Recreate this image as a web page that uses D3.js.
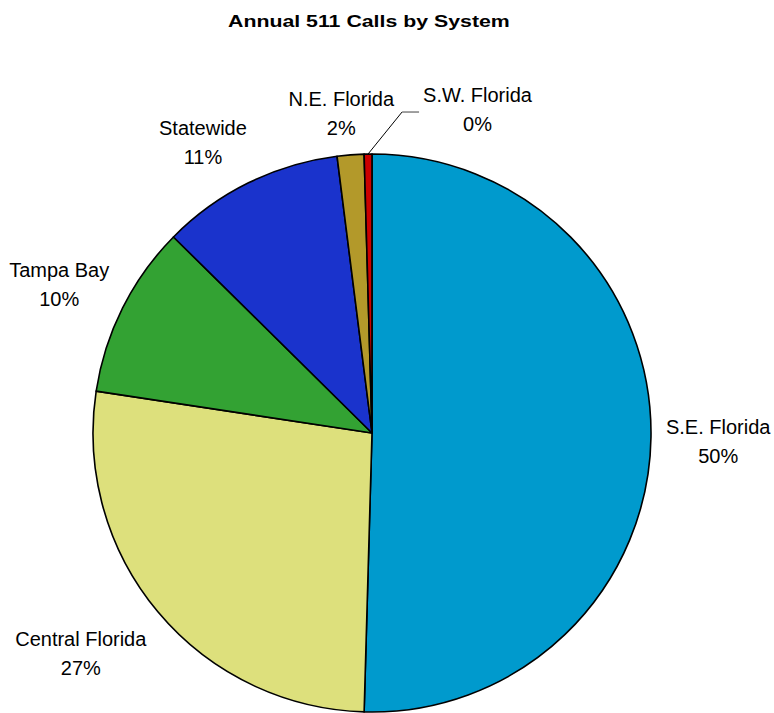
<!DOCTYPE html>
<html>
<head>
<meta charset="utf-8">
<script src="https://cdn.jsdelivr.net/npm/d3@7"></script>
<style>
  html, body { margin: 0; padding: 0; background: #fff; }
  svg { display: block; }
  text { font-family: "Liberation Sans", Arial, sans-serif; fill: #000; }
</style>
</head>
<body>
<svg id="chart" width="774" height="713"></svg>
<script>
// Share of annual 511 calls by regional system (percent)
const systems = ["S.E. Florida", "Central Florida", "Tampa Bay", "Statewide", "N.E. Florida", "S.W. Florida"];
const shares  = [50.45, 26.95, 10.0, 10.6, 1.55, 0.45];
const colors  = ["#009acd", "#dde07c", "#33a233", "#1a33cc", "#b3992a", "#cc0000"];

const W = 774, H = 713;
const cx = 372, cy = 433, r = 279;

const svg = d3.select("#chart");

// Title: bold, drawn slightly widened
const title = svg.append("text")
  .attr("font-size", 17).attr("font-weight", "bold")
  .text("Annual 511 Calls by System");
const tw = title.node().getComputedTextLength();
const sx = 282 / tw;
title.attr("transform", `translate(228,27) scale(${sx},1)`);

const data = systems.map((name, i) => ({ name, value: shares[i], color: colors[i] }));

const pie = d3.pie().value(d => d.value).sort(null);
const arcs = pie(data);
const arc = d3.arc().innerRadius(0).outerRadius(r);

const g = svg.append("g").attr("transform", `translate(${cx},${cy})`);

g.selectAll("path.slice")
  .data(arcs)
  .join("path")
  .attr("class", "slice")
  .attr("d", arc)
  .attr("fill", d => d.data.color)
  .attr("stroke", "#000")
  .attr("stroke-width", 1.6)
  .attr("stroke-linejoin", "round");

// Outside labels: name on the first line, rounded percent on the second
const clamp = v => Math.max(-1, Math.min(1, v));
const lineGap = 29, fontSize = 20;

arcs.forEach(d => {
  const a = (d.startAngle + d.endAngle) / 2;
  const s = Math.sin(a), c = Math.cos(a);
  const pctText = Math.round(d.data.value) + "%";
  const lg = g.append("g");
  const t1 = lg.append("text").attr("text-anchor", "middle").attr("font-size", fontSize).text(d.data.name);
  const t2 = lg.append("text").attr("text-anchor", "middle").attr("font-size", fontSize).text(pctText);
  const w = Math.max(t1.node().getComputedTextLength(), t2.node().getComputedTextLength());

  let bx, by;
  if (d.data.value < 1) {
    // thin slice: label pulled up and to the right with a leader line
    const ex = r * s, ey = -r * c;
    const kx = ex + 34, ky = ey - 42;
    bx = kx + 21 + w / 2;
    by = ky - 3;
    g.append("path")
      .attr("d", `M${ex},${ey}L${kx},${ky}`)
      .attr("fill", "none").attr("stroke", "#000").attr("stroke-width", 1);
    g.append("path")
      .attr("d", `M${kx},${ky}L${kx + 17},${ky}`)
      .attr("fill", "none").attr("stroke", "#808080").attr("stroke-width", 1.5);
  } else {
    const R = r + 15;
    const px = R * s, py = -R * c;
    bx = px + clamp(2 * s) * w / 2;
    by = py - clamp(1.5 * c) * 30 + 3;
  }
  t1.attr("x", bx).attr("y", by - 7);
  t2.attr("x", bx).attr("y", by - 7 + lineGap);
});
</script>
</body>
</html>
